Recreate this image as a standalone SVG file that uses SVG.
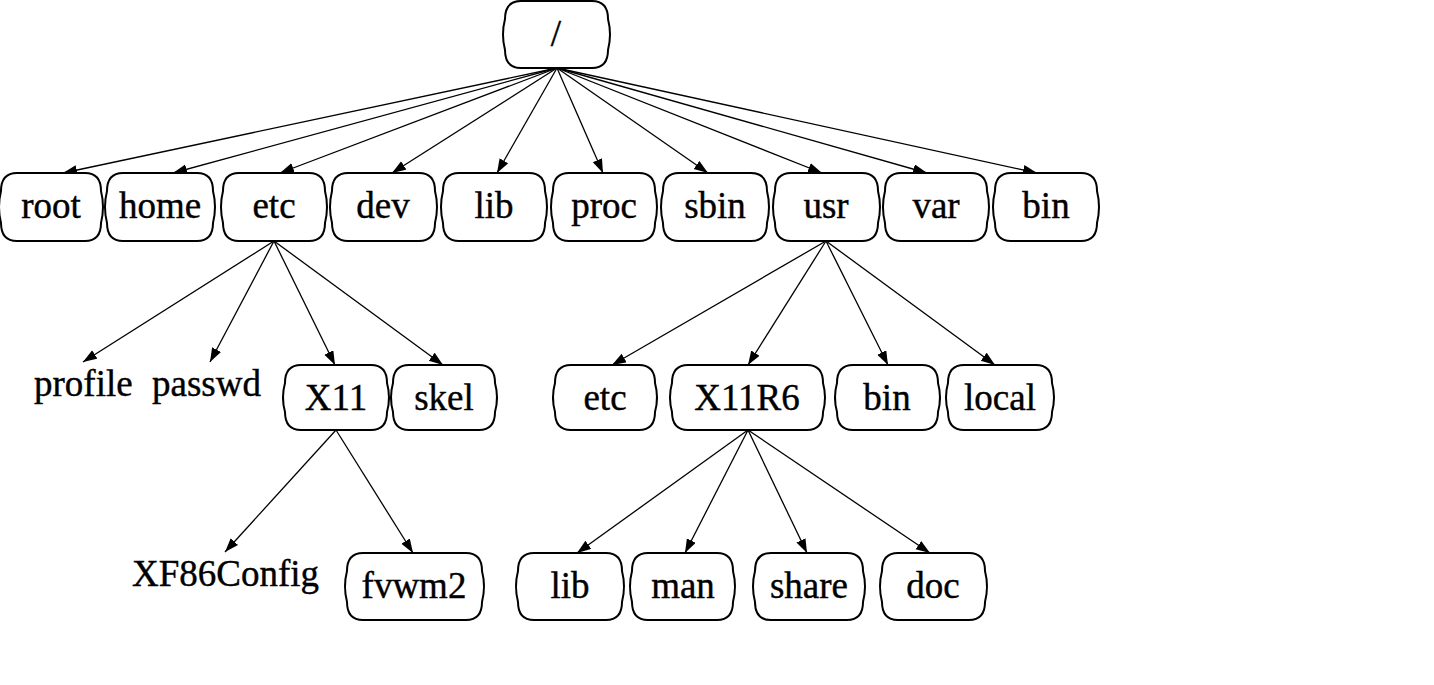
<svg xmlns="http://www.w3.org/2000/svg" width="1434" height="685" viewBox="0 0 1434 685">
<style>
.n{fill:#fff;stroke:#000;stroke-width:2}
.t{font-family:"Liberation Serif","Times New Roman",serif;font-size:37px;fill:#000;stroke:#000;stroke-width:0.4;text-anchor:middle}
.f{font-family:"Liberation Serif","Times New Roman",serif;font-size:37px;fill:#000;stroke:#000;stroke-width:0.4}
.c line{stroke:#000;stroke-width:1.3;marker-end:url(#ah)}
</style>
<defs>
<marker id="ah" markerUnits="userSpaceOnUse" markerWidth="16" markerHeight="12" refX="14" refY="5" orient="auto">
<path d="M0,0 L14,5 L0,10 z" fill="#000"/>
</marker>
</defs>
<rect width="1434" height="685" fill="#fff"/>
<g id="connectors" class="c">
<line x1="557" y1="68" x2="63" y2="173"/>
<line x1="557" y1="68" x2="173" y2="173"/>
<line x1="557" y1="68" x2="280" y2="173"/>
<line x1="557" y1="68" x2="392" y2="173"/>
<line x1="557" y1="68" x2="497" y2="173"/>
<line x1="557" y1="68" x2="603" y2="173"/>
<line x1="557" y1="68" x2="708" y2="173"/>
<line x1="557" y1="68" x2="822" y2="173"/>
<line x1="557" y1="68" x2="927" y2="173"/>
<line x1="557" y1="68" x2="1037" y2="173"/>
<line x1="274" y1="241" x2="83" y2="362"/>
<line x1="274" y1="241" x2="210" y2="362"/>
<line x1="274" y1="241" x2="335" y2="365"/>
<line x1="274" y1="241" x2="443" y2="365"/>
<line x1="826" y1="241" x2="612" y2="365"/>
<line x1="826" y1="241" x2="748" y2="365"/>
<line x1="826" y1="241" x2="888" y2="365"/>
<line x1="826" y1="241" x2="995" y2="365"/>
<line x1="336" y1="430" x2="225" y2="552"/>
<line x1="336" y1="430" x2="413" y2="553"/>
<line x1="748" y1="430" x2="577" y2="553"/>
<line x1="748" y1="430" x2="685" y2="553"/>
<line x1="748" y1="430" x2="807" y2="553"/>
<line x1="748" y1="430" x2="930" y2="553"/>
</g>
<g id="n-slash"><path class="n" d="M521,1 H592 Q608,1 608,19 Q612,34.5 608,50 Q608,68 592,68 H521 Q505,68 505,50 Q501,34.5 505,19 Q505,1 521,1 Z"/><text class="t" x="556" y="46">/</text></g>
<g id="n-root"><path class="n" d="M17,173 H85 Q101,173 101,191 Q105,207 101,223 Q101,241 85,241 H17 Q1,241 1,223 Q-3,207 1,191 Q1,173 17,173 Z"/><text class="t" x="51" y="218">root</text></g>
<g id="n-home"><path class="n" d="M123,173 H197 Q213,173 213,191 Q217,207 213,223 Q213,241 197,241 H123 Q107,241 107,223 Q103,207 107,191 Q107,173 123,173 Z"/><text class="t" x="160" y="218">home</text></g>
<g id="n-etc"><path class="n" d="M239,173 H309 Q325,173 325,191 Q329,207 325,223 Q325,241 309,241 H239 Q223,241 223,223 Q219,207 223,191 Q223,173 239,173 Z"/><text class="t" x="274" y="218">etc</text></g>
<g id="n-dev"><path class="n" d="M348,173 H419 Q435,173 435,191 Q439,207 435,223 Q435,241 419,241 H348 Q332,241 332,223 Q328,207 332,191 Q332,173 348,173 Z"/><text class="t" x="383" y="218">dev</text></g>
<g id="n-lib"><path class="n" d="M459,173 H529 Q545,173 545,191 Q549,207 545,223 Q545,241 529,241 H459 Q443,241 443,223 Q439,207 443,191 Q443,173 459,173 Z"/><text class="t" x="494" y="218">lib</text></g>
<g id="n-proc"><path class="n" d="M569,173 H639 Q655,173 655,191 Q659,207 655,223 Q655,241 639,241 H569 Q553,241 553,223 Q549,207 553,191 Q553,173 569,173 Z"/><text class="t" x="604" y="218">proc</text></g>
<g id="n-sbin"><path class="n" d="M679,173 H751 Q767,173 767,191 Q771,207 767,223 Q767,241 751,241 H679 Q663,241 663,223 Q659,207 663,191 Q663,173 679,173 Z"/><text class="t" x="715" y="218">sbin</text></g>
<g id="n-usr"><path class="n" d="M791,173 H862 Q878,173 878,191 Q882,207 878,223 Q878,241 862,241 H791 Q775,241 775,223 Q771,207 775,191 Q775,173 791,173 Z"/><text class="t" x="826" y="218">usr</text></g>
<g id="n-var"><path class="n" d="M901,173 H971 Q987,173 987,191 Q991,207 987,223 Q987,241 971,241 H901 Q885,241 885,223 Q881,207 885,191 Q885,173 901,173 Z"/><text class="t" x="936" y="218">var</text></g>
<g id="n-bin"><path class="n" d="M1011,173 H1081 Q1097,173 1097,191 Q1101,207 1097,223 Q1097,241 1081,241 H1011 Q995,241 995,223 Q991,207 995,191 Q995,173 1011,173 Z"/><text class="t" x="1046" y="218">bin</text></g>
<g id="n-profile"><text class="f" x="34" y="396">profile</text></g>
<g id="n-passwd"><text class="f" x="152" y="396">passwd</text></g>
<g id="n-x11"><path class="n" d="M301,365 H371 Q387,365 387,383 Q391,397.5 387,412 Q387,430 371,430 H301 Q285,430 285,412 Q281,397.5 285,383 Q285,365 301,365 Z"/><text class="t" x="336" y="410">X11</text></g>
<g id="n-skel"><path class="n" d="M409,365 H479 Q495,365 495,383 Q499,397.5 495,412 Q495,430 479,430 H409 Q393,430 393,412 Q389,397.5 393,383 Q393,365 409,365 Z"/><text class="t" x="444" y="410">skel</text></g>
<g id="n-usr-etc"><path class="n" d="M571,365 H639 Q655,365 655,383 Q659,397.5 655,412 Q655,430 639,430 H571 Q555,430 555,412 Q551,397.5 555,383 Q555,365 571,365 Z"/><text class="t" x="605" y="410">etc</text></g>
<g id="n-x11r6"><path class="n" d="M688,365 H807 Q823,365 823,383 Q827,397.5 823,412 Q823,430 807,430 H688 Q672,430 672,412 Q668,397.5 672,383 Q672,365 688,365 Z"/><text class="t" x="747" y="410">X11R6</text></g>
<g id="n-usr-bin"><path class="n" d="M853,365 H922 Q938,365 938,383 Q942,397.5 938,412 Q938,430 922,430 H853 Q837,430 837,412 Q833,397.5 837,383 Q837,365 853,365 Z"/><text class="t" x="887" y="410">bin</text></g>
<g id="n-local"><path class="n" d="M964,365 H1036 Q1052,365 1052,383 Q1056,397.5 1052,412 Q1052,430 1036,430 H964 Q948,430 948,412 Q944,397.5 948,383 Q948,365 964,365 Z"/><text class="t" x="1000" y="410">local</text></g>
<g id="n-xf86config"><text class="f" x="132" y="586">XF86Config</text></g>
<g id="n-fvwm2"><path class="n" d="M363,553 H466 Q482,553 482,571 Q486,586.5 482,602 Q482,620 466,620 H363 Q347,620 347,602 Q343,586.5 347,571 Q347,553 363,553 Z"/><text class="t" x="414" y="598">fvwm2</text></g>
<g id="n-lib2"><path class="n" d="M534,553 H606 Q622,553 622,571 Q626,586.5 622,602 Q622,620 606,620 H534 Q518,620 518,602 Q514,586.5 518,571 Q518,553 534,553 Z"/><text class="t" x="570" y="598">lib</text></g>
<g id="n-man"><path class="n" d="M648,553 H717 Q733,553 733,571 Q737,586.5 733,602 Q733,620 717,620 H648 Q632,620 632,602 Q628,586.5 632,571 Q632,553 648,553 Z"/><text class="t" x="683" y="598">man</text></g>
<g id="n-share"><path class="n" d="M771,553 H847 Q863,553 863,571 Q867,586.5 863,602 Q863,620 847,620 H771 Q755,620 755,602 Q751,586.5 755,571 Q755,553 771,553 Z"/><text class="t" x="809" y="598">share</text></g>
<g id="n-doc"><path class="n" d="M898,553 H969 Q985,553 985,571 Q989,586.5 985,602 Q985,620 969,620 H898 Q882,620 882,602 Q878,586.5 882,571 Q882,553 898,553 Z"/><text class="t" x="933" y="598">doc</text></g>
</svg>
